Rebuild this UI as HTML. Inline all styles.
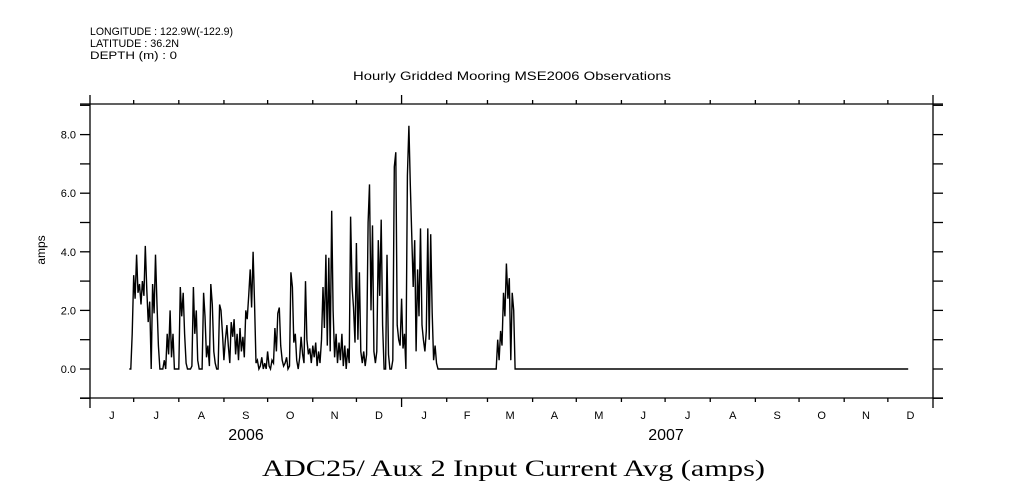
<!DOCTYPE html>
<html><head><meta charset="utf-8"><style>
html,body{margin:0;padding:0;background:#fff;}
svg{display:block;font-family:"Liberation Sans",sans-serif;}
</style></head><body>
<svg id="chart" width="1009" height="504" viewBox="0 0 1009 504">
<g font-size="11" fill="#000">
<text x="90" y="35" textLength="143" lengthAdjust="spacingAndGlyphs">LONGITUDE : 122.9W(-122.9)</text>
<text x="90" y="47" textLength="89" lengthAdjust="spacingAndGlyphs">LATITUDE : 36.2N</text>
<text x="90" y="59" textLength="87" lengthAdjust="spacingAndGlyphs">DEPTH (m) : 0</text>
<text x="353" y="80" textLength="318" lengthAdjust="spacingAndGlyphs" font-size="12">Hourly Gridded Mooring MSE2006 Observations</text>
</g>
<g id="axes"></g>
<g id="series"></g>
<text x="45" y="250" font-size="12" text-anchor="middle" transform="rotate(-90 45 250)">amps</text>
<text x="246" y="440" font-size="16" text-anchor="middle">2006</text>
<text x="666" y="440" font-size="16" text-anchor="middle">2007</text>
<text x="262" y="476" font-size="23" textLength="503" lengthAdjust="spacingAndGlyphs" font-family="Liberation Serif, serif">ADC25/ Aux 2 Input Current Avg (amps)</text>
</svg>
<script>
const monthLabels = ["J","J","A","S","O","N","D","J","F","M","A","M","J","J","A","S","O","N","D"];
const monthStartDays = [0,30,61,92,122,153,183,214,245,273,304,334,365,395,426,457,487,518,548,579];
const yTickValues = [-1,0,1,2,3,4,5,6,7,8,9];
const yLabelValues = [0,2,4,6,8];
const start1 = 27;
const values1 = [0,0,1.2,3.2,2.4,3.9,2.6,2.9,2.2,3.0,2.5,4.2,2.7,1.6,2.3,0,2.9,1.9,3.9,2.2,0.8,0,
0,0,0.3,0,1.2,0.5,2.0,0.4,1.2,0,0,0,0,2.8,1.8,2.6,1.2,0.2,0,0,0,0.1,2.8,1.2,2.0,0.3,0,0,0,2.6,1.8,0.4,0.8,0.1,2.9,2.2,0.6,0.2,0,0,2.2,2.0,1.2,0.3,1.0,1.5,0.8,0.2,1.6,1.1,1.7,0.5,1.2,0.3,1.4,0.6,1.1,0.4,2.0,1.7,2.5,3.4,2.1,4.0,2.3,0.2,0.3,0,0.1,0.4,0,0.2,0,0.6,0.1,
0,0.3,0.2,1.4,0.6,1.9,2.1,0.8,0.3,0.1,0.2,0.4,0,0.1,3.3,2.8,0.9,1.2,0.3,0,0.4,1.1,0.5,0.2,3.0,1.0,0.5,0.7,0.2,0.8,0.4,0.9,0.1,0.6,0.2,1.0,2.8,1.4,3.9,0.8,3.8,0.6,5.4,2.0,0.4,1.2,0.2,0.9,0.3,1.2,0.1,0.8,0,0.7,0.2,5.2,2.8,2.1,0.9,4.3,1.0,3.3,0.6,0.2,0.6,0.1,0.5,5.0,6.3,2.0,4.9,0.6,0.2,0.6,4.4,2.5,5.1,1.5,0,0,3.9,0.5,0,0,0.3,6.9,7.4,1.5,1.0,0.8,2.4,0.7,1.2,0,6.6,8.3,6.3,4.5,2.8,4.4,0.6,3.4,1.8,4.8,1.5,1.0,0.6,1.3,4.8,1.0,4.6,1.9,0.3,0.8,0.2,0];
const start2 = 279;
const values2 = [0,1.0,0.3,1.3,0.8,2.6,1.8,3.6,2.4,3.1,0.3,2.6,2.0,0];
const endDay = 562;

const L=90,R=933,T=104,B=398;
const xs = d => L + d*(R-L)/579;
const ys = v => 369 - v*29.3;
const NS="http://www.w3.org/2000/svg";
function mk(tag, attrs, parent){const e=document.createElementNS(NS,tag);for(const k in attrs)e.setAttribute(k,attrs[k]);parent.appendChild(e);return e;}
const axes=document.getElementById('axes');
const st={stroke:"#000","stroke-width":"1.3",fill:"none"};
let e;
e=mk('line',Object.assign({x1:L,y1:95,x2:L,y2:408},st),axes);


e=mk('line',Object.assign({x1:R,y1:95,x2:R,y2:408},st),axes);


e=mk('line',Object.assign({x1:80,y1:T,x2:943,y2:T},st),axes);


e=mk('line',Object.assign({x1:80,y1:B,x2:943,y2:B},st),axes);


yTickValues.forEach(v=>{
  const y=ys(v);
  e=mk('line',Object.assign({x1:80,y1:y,x2:L,y2:y},st),axes);
  
  
  e=mk('line',Object.assign({x1:R,y1:y,x2:943,y2:y},st),axes);
  
  
});
yLabelValues.forEach(v=>{
  e=mk('text',{x:76,y:ys(v)+4,"text-anchor":"end","font-size":"11"},axes);
  e.textContent=v.toFixed(1);
  
  
});
monthStartDays.forEach((d,i)=>{
  if(i===0||i===monthStartDays.length-1)return;
  const x=xs(d); const len = d===214?9:4;
  e=mk('line',Object.assign({x1:x,y1:T-len,x2:x,y2:T},st),axes);
  
  
  e=mk('line',Object.assign({x1:x,y1:B,x2:x,y2:B+len},st),axes);
  
  
});
monthLabels.forEach((m,i)=>{
  const x=(xs(monthStartDays[i])+xs(monthStartDays[i+1]))/2;
  e=mk('text',{x:x,y:419,"text-anchor":"middle","font-size":"11"},axes);
  e.textContent=m;
  
  
});
const pts=[];
values1.forEach((v,i)=>pts.push([xs(start1+i),ys(v)]));
values2.forEach((v,i)=>pts.push([xs(start2+i),ys(v)]));
pts.push([xs(endDay),ys(0)]);
e=mk('polyline',{points:pts.map(p=>p[0].toFixed(1)+','+p[1].toFixed(1)).join(' '),stroke:"#000","stroke-width":"1.4",fill:"none","stroke-linejoin":"miter"},document.getElementById('series'));


</script>
</body></html>
